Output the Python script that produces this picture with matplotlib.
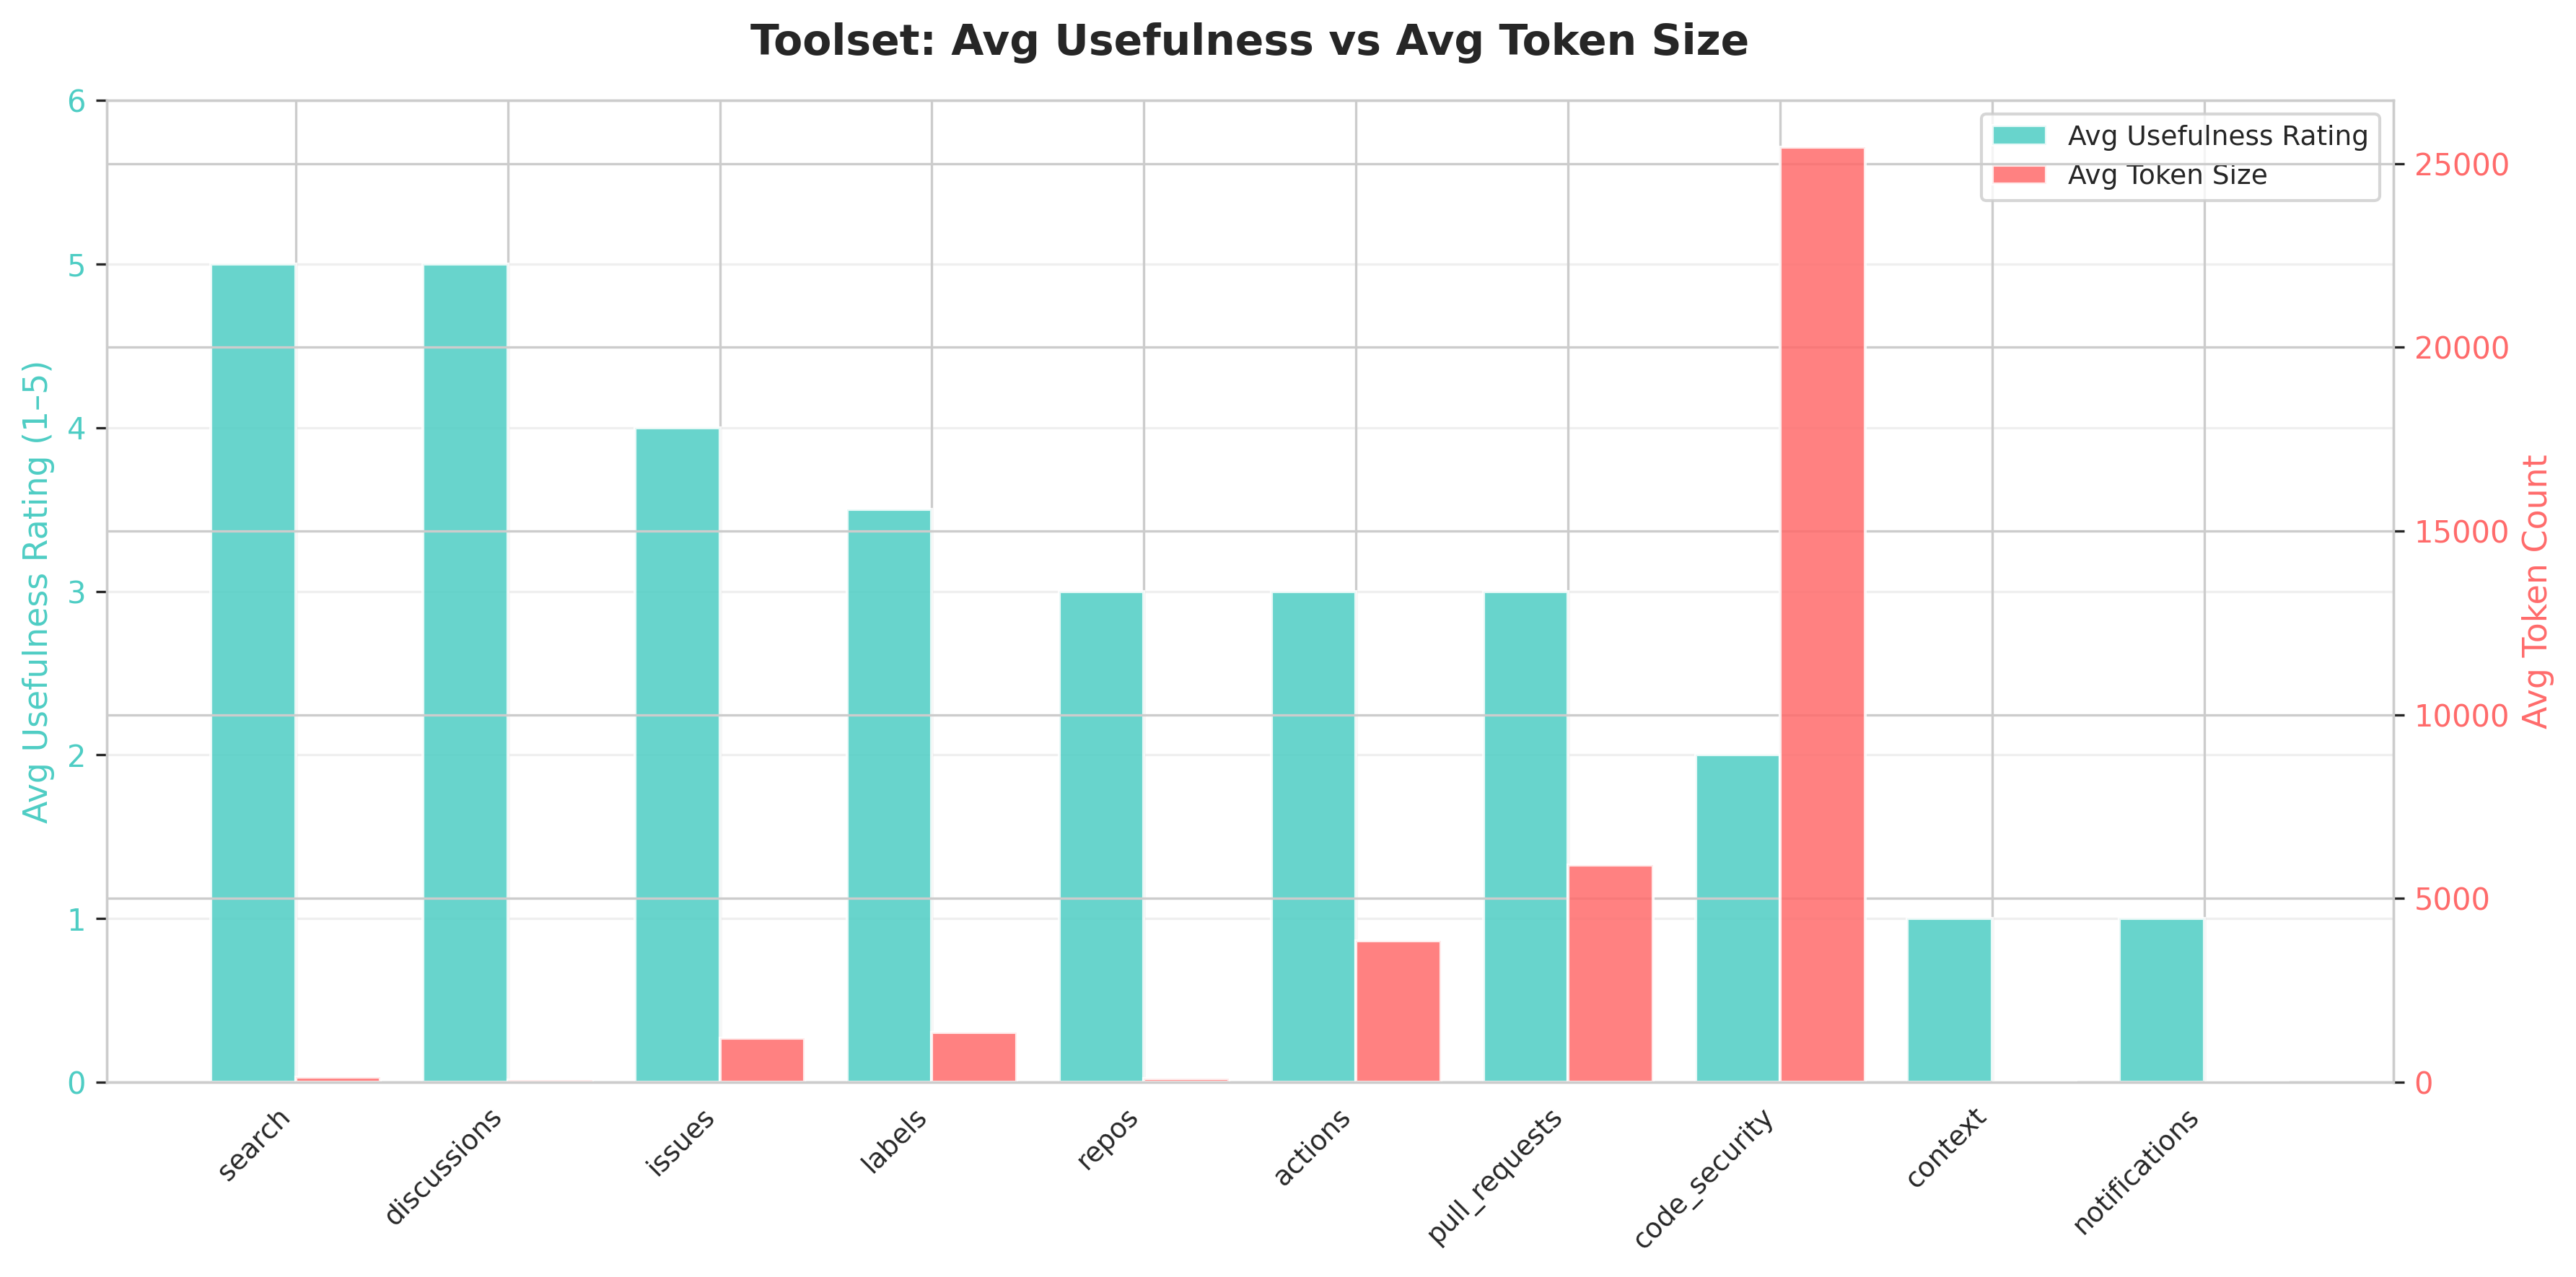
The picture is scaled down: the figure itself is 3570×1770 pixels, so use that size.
import numpy as np
import matplotlib
matplotlib.use('Agg')
import matplotlib.pyplot as plt
import seaborn as sns

# toolset summary values
toolsets = ['search', 'discussions', 'issues', 'labels', 'repos', 'actions',
            'pull_requests', 'code_security', 'context', 'notifications']
avg_usefulness = [5, 5, 4, 3.5, 3, 3, 3, 2, 1, 1]
avg_tokens = [130, 65, 1200, 1360, 95, 3840, 5920, 25450, 0, 0]

sns.set_style('whitegrid')

teal = '#4ECDC4'
red = '#FF6B6B'

fig, ax1 = plt.subplots(figsize=(11.9, 5.9))
x = np.arange(len(toolsets))
width = 0.4

bars1 = ax1.bar(x - width/2, avg_usefulness, width, label='Avg Usefulness Rating',
                color=teal, alpha=0.85)
ax1.set_ylabel('Avg Usefulness Rating (1–5)', color=teal, fontsize=11)
ax1.tick_params(axis='y', labelcolor=teal)
ax1.set_ylim(0, 6)

ax2 = ax1.twinx()
bars2 = ax2.bar(x + width/2, avg_tokens, width, label='Avg Token Size',
                color=red, alpha=0.85)
ax2.set_ylabel('Avg Token Count', color=red, fontsize=11)
ax2.tick_params(axis='y', labelcolor=red)

ax1.set_xticks(x)
ax1.set_xticklabels(toolsets, rotation=45, ha='right', fontsize=9)
ax1.grid(axis='y', alpha=0.3)
ax1.set_title('Toolset: Avg Usefulness vs Avg Token Size', fontsize=14,
              fontweight='bold', pad=15)

# combined legend
handles = [bars1, bars2]
ax1.legend(handles, [h.get_label() for h in handles], loc='upper right', fontsize=9)

fig.subplots_adjust(left=0.0415, right=0.929, top=0.9215, bottom=0.1525)
fig.savefig('out.png', dpi=300)
